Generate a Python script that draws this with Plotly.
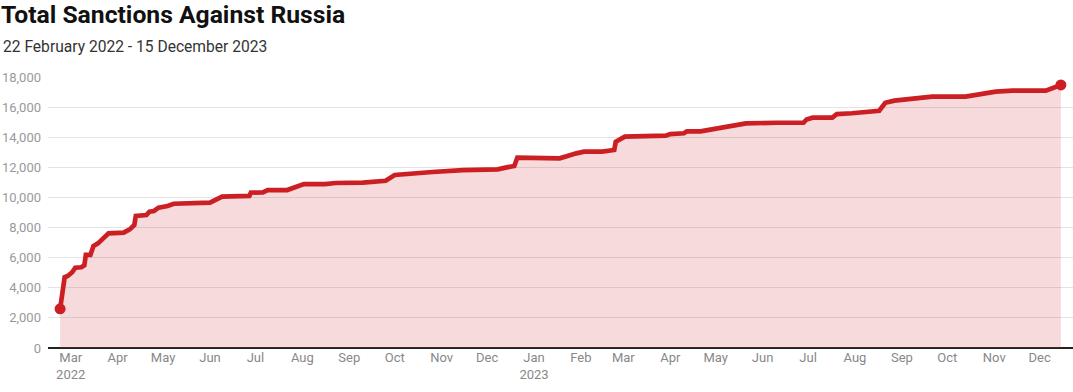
import plotly.graph_objects as go

dates = [
    "2022-02-22", "2022-02-23", "2022-02-25", "2022-02-27", "2022-03-02", "2022-03-04",
    "2022-03-08", "2022-03-10", "2022-03-11", "2022-03-14", "2022-03-16", "2022-03-19",
    "2022-03-26", "2022-04-05", "2022-04-09", "2022-04-12", "2022-04-13", "2022-04-20",
    "2022-04-22", "2022-04-25", "2022-04-28", "2022-05-04", "2022-05-08", "2022-06-01",
    "2022-06-05", "2022-06-09", "2022-06-27", "2022-06-28", "2022-07-06", "2022-07-09",
    "2022-07-22", "2022-07-28", "2022-08-02", "2022-08-16", "2022-08-23", "2022-09-10",
    "2022-09-25", "2022-10-01", "2022-10-11", "2022-10-26", "2022-11-15", "2022-12-08",
    "2022-12-14", "2022-12-19", "2022-12-21", "2023-01-18", "2023-01-29", "2023-02-03",
    "2023-02-15", "2023-02-23", "2023-02-24", "2023-03-02", "2023-03-29", "2023-04-01",
    "2023-04-10", "2023-04-12", "2023-04-21", "2023-05-21", "2023-06-10", "2023-06-28",
    "2023-06-30", "2023-07-04", "2023-07-17", "2023-07-20", "2023-07-30", "2023-08-10",
    "2023-08-17", "2023-08-21", "2023-08-27", "2023-09-21", "2023-10-13", "2023-11-02",
    "2023-11-13", "2023-12-05", "2023-12-15",
]
sanctions = [
    2600, 3400, 4700, 4780, 5030, 5330,
    5360, 5490, 6180, 6180, 6770, 6950,
    7620, 7660, 7880, 8170, 8770, 8830,
    9050, 9100, 9320, 9430, 9580, 9650,
    9850, 10050, 10100, 10320, 10340, 10490,
    10490, 10710, 10890, 10890, 10960, 10980,
    11110, 11490, 11600, 11690, 11820, 11870,
    12000, 12090, 12650, 12600, 12930, 13040,
    13040, 13150, 13700, 14040, 14100, 14210,
    14260, 14390, 14390, 14920, 14960, 14960,
    15180, 15300, 15300, 15540, 15590, 15650,
    15760, 16290, 16430, 16700, 16700, 17030,
    17090, 17090, 17470,
]

tick_dates = [
    "2022-03-01", "2022-04-01", "2022-05-01", "2022-06-01", "2022-07-01", "2022-08-01",
    "2022-09-01", "2022-10-01", "2022-11-01", "2022-12-01", "2023-01-01", "2023-02-01",
    "2023-03-01", "2023-04-01", "2023-05-01", "2023-06-01", "2023-07-01", "2023-08-01",
    "2023-09-01", "2023-10-01", "2023-11-01", "2023-12-01",
]
tick_labels = [
    "Mar<br>2022", "Apr", "May", "Jun", "Jul", "Aug", "Sep", "Oct", "Nov", "Dec",
    "Jan<br>2023", "Feb", "Mar", "Apr", "May", "Jun", "Jul", "Aug", "Sep", "Oct", "Nov", "Dec",
]
y_ticks = list(range(0, 18001, 2000))

title_text = "Total Sanctions Against Russia"
subtitle_text = "22 February 2022 - 15 December 2023"

RED = "#cc1f23"

fig = go.Figure()
fig.add_trace(go.Scatter(
    x=dates, y=sanctions, mode="lines",
    line=dict(color=RED, width=4.7),
    fill="tozeroy", fillcolor="rgba(214,60,66,0.19)",
    hoverinfo="skip", showlegend=False,
))
fig.add_trace(go.Scatter(
    x=[dates[0], dates[-1]], y=[sanctions[0], sanctions[-1]], mode="markers",
    marker=dict(color=RED, size=11),
    hoverinfo="skip", showlegend=False,
))

fig.update_layout(
    width=1073, height=392,
    margin=dict(l=48, r=0, t=77, b=44),
    paper_bgcolor="white", plot_bgcolor="white",
    font=dict(family="Roboto", size=13, color="#999999"),
    title=dict(
        text="<b>" + title_text + "</b>",
        font=dict(family="Roboto", size=24.7, color="#111111"),
        xref="container", yref="container",
        x=0.0, xanchor="left", y=1 - 14 / 392, yanchor="middle",
        pad=dict(l=1),
    ),
    annotations=[dict(
        text=subtitle_text, xref="paper", yref="paper",
        x=-47 / 1025, y=(348 - 47) / 271, xanchor="left", yanchor="middle",
        showarrow=False, font=dict(family="Roboto", size=15.6, color="#333333"),
    )],
    xaxis=dict(
        type="date",
        range=["2022-02-14", "2023-12-23"],
        tickvals=tick_dates, ticktext=tick_labels,
        showgrid=False, showline=False, zeroline=False,
        ticks="", tickfont=dict(size=13, color="#888888"),
    ),
    yaxis=dict(
        range=[0, 18000],
        tickvals=y_ticks, tickformat=",",
        showgrid=True, gridcolor="#e3e3e3", gridwidth=1,
        zeroline=True, zerolinecolor="#222222", zerolinewidth=1.5,
        showline=False, ticks="", ticklabelstandoff=6,
        tickfont=dict(size=13, color="#999999"),
    ),
)

fig.write_html(
    "out.html",
    config={"displayModeBar": False},
    post_script="document.body.style.margin='0px';document.body.style.overflow='hidden';",
)
